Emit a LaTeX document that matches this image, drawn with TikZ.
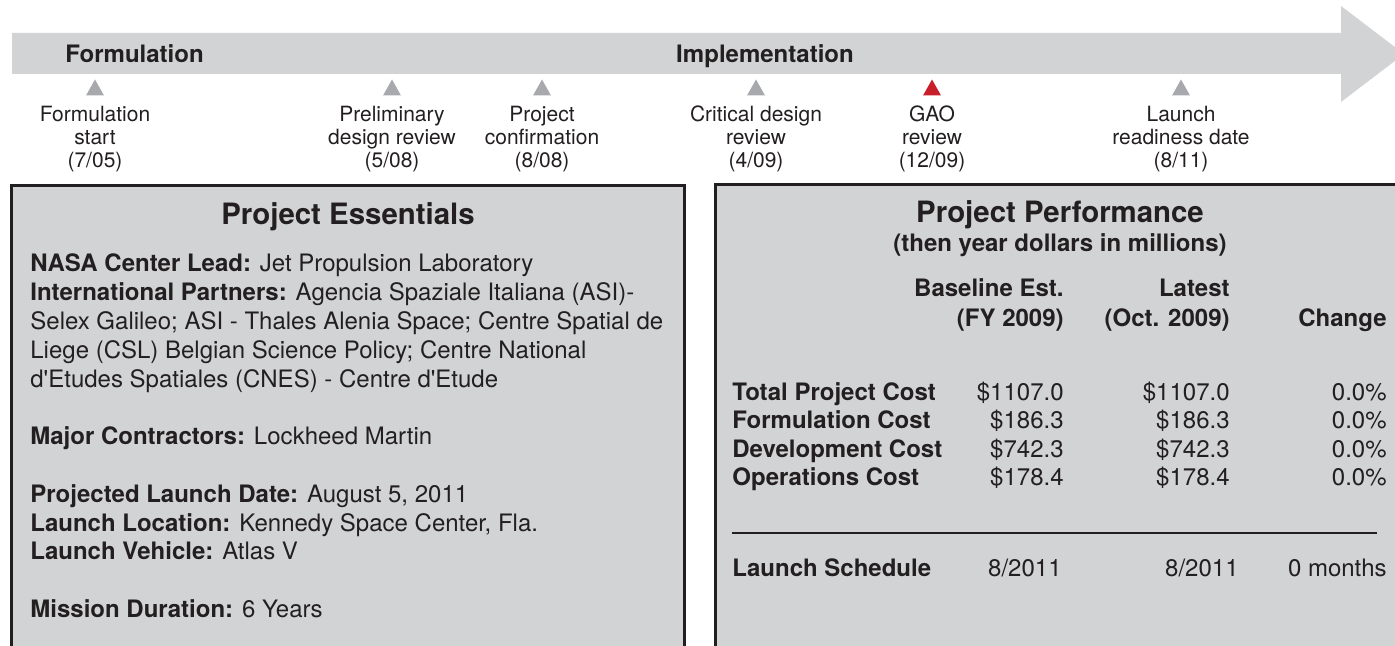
\documentclass[tikz,border=0pt]{standalone}
\usepackage{fontspec}
\setmainfont{TeX Gyre Heros}
\definecolor{bandgray}{HTML}{D1D3D4}
\definecolor{markgray}{HTML}{A7A9AC}
\definecolor{gaored}{HTML}{C8202A}
\definecolor{ink}{HTML}{231F20}
\begin{document}
\begin{tikzpicture}[x=0.5pt, y=-0.5pt, line join=miter,
  every node/.style={inner sep=0pt, text=ink},
  phase/.style={font=\fontsize{12}{14}\selectfont\bfseries, anchor=base},
  mlabel/.style={font=\fontsize{10.5}{11.5}\selectfont, align=center, anchor=north},
  title/.style={font=\fontsize{14.7}{17}\selectfont\bfseries, anchor=base},
  body/.style={font=\fontsize{12}{14.4}\selectfont},
  boldbody/.style={font=\fontsize{12}{14.4}\selectfont\bfseries},
  cell/.style={body, anchor=base east},
  headcell/.style={boldbody, anchor=base east},
  rowname/.style={boldbody, anchor=base west},
  infobox/.style={fill=bandgray, draw=ink, line width=1.5pt}]
\def\xmax{1395} \def\ymax{646}
\useasboundingbox (0,0) rectangle (\xmax,\ymax);
\clip (0,0) rectangle (\xmax,\ymax);
% timeline arrow
\fill[bandgray] (12,33) -- (1341,33) -- (1341,6) -- (1404,54) -- (1341,102)
  -- (1341,74) -- (12,74) -- cycle;
\node[phase] (form) at (134.5,63) {Formulation};
\node[phase] (impl) at (765,63) {Implementation};
% milestones
\foreach \x/\col/\txt [count=\i] in {95/markgray/{Formulation\\start\\(7/05)},
    392/markgray/{Preliminary\\design review\\(5/08)},
    542/markgray/{Project\\confirmation\\(8/08)},
    756/markgray/{Critical design\\review\\(4/09)},
    932/gaored/{GAO\\review\\(12/09)},
    1181/markgray/{Launch\\readiness date\\(8/11)}}{
  \fill[\col] (\x-9,95.5) -- (\x+9,95.5) -- (\x,79.5) -- cycle;
  \node[mlabel] (ms\i) at (\x,105.8) {\txt};
}
% boxes
\draw[infobox] (11.5,185.5) rectangle (684.5,700);
\draw[infobox] (715.5,184.5) rectangle (1450,700);
% left box
\node[title] (ess) at (348,225) {Project Essentials};
\node[body, align=left, anchor=north west] (facts) at (30,253.7) {%
  \textbf{NASA Center Lead:} Jet Propulsion Laboratory\\
  \textbf{International Partners:} Agencia Spaziale Italiana (ASI)-\\
  Selex Galileo; ASI - Thales Alenia Space; Centre Spatial de\\
  Liege (CSL) Belgian Science Policy; Centre National\\
  d\textquotesingle Etudes Spatiales (CNES) - Centre d\textquotesingle Etude\\[14.4pt]
  \textbf{Major Contractors:} Lockheed Martin\\[14.4pt]
  \textbf{Projected Launch Date:} August 5, 2011\\
  \textbf{Launch Location:} Kennedy Space Center, Fla.\\
  \textbf{Launch Vehicle:} Atlas V\\[14.4pt]
  \textbf{Mission Duration:} 6 Years};
% right box
\node[title] (perf) at (1060,223) {Project Performance};
\node[boldbody, anchor=base] (unit) at (1060,252) {(then year dollars in millions)};
\node[headcell] (hbase) at (1064,297) {Baseline Est.};
\node[headcell] (hbasey) at (1064,327) {(FY 2009)};
\node[headcell] (hlast) at (1230,297) {Latest};
\node[headcell] (hlasty) at (1230,327) {(Oct. 2009)};
\node[headcell] (hchg) at (1387,327) {Change};
\foreach \y/\lbl/\old/\new [count=\i] in {400/Total Project Cost/\$1107.0/\$1107.0,
    428/Formulation Cost/\$186.3/\$186.3,
    457/Development Cost/\$742.3/\$742.3,
    485/Operations Cost/\$178.4/\$178.4}{
  \node[rowname] (row\i) at (732,\y) {\lbl};
  \node[cell] (base\i) at (1064,\y) {\old};
  \node[cell] (last\i) at (1230,\y) {\new};
  \node[cell] (chg\i) at (1387,\y) {0.0\%};
}
\draw[ink, line width=0.75pt] (732,533) -- (1377,533);
\node[rowname] (sched) at (732,576) {Launch Schedule};
\node[cell] (sbase) at (1062,576) {8/2011};
\node[cell] (slast) at (1239,576) {8/2011};
\node[cell] (schg) at (1387,576) {0 months};
\end{tikzpicture}
\end{document}
